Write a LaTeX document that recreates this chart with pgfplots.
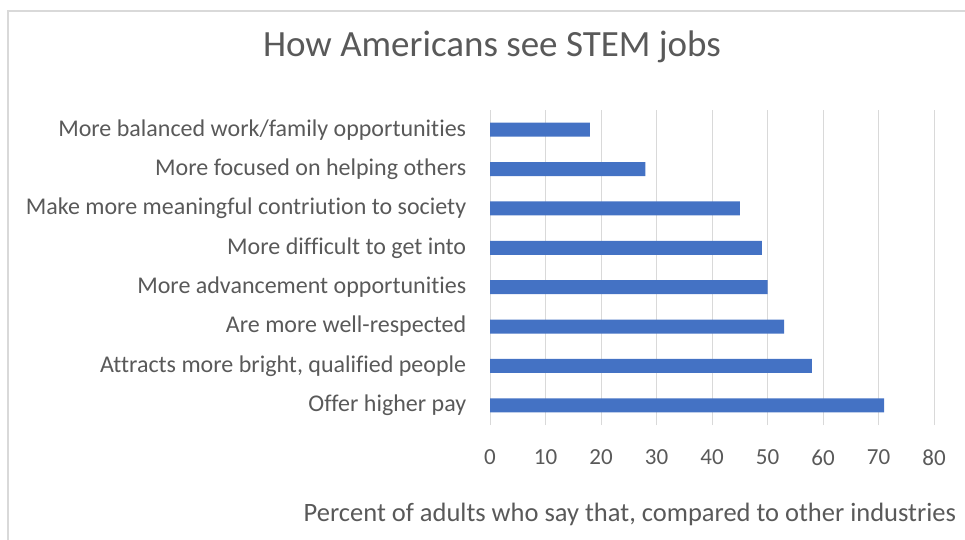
\documentclass[border=0pt]{standalone}
\usepackage{pgfplots}
\pgfplotsset{compat=1.18}
\usepackage{fontspec}
\setmainfont{Carlito}[Ligatures={NoCommon}]
\definecolor{barblue}{HTML}{4472C4}
\definecolor{txtgray}{HTML}{595959}
\definecolor{gridgray}{HTML}{D9D9D9}
\begin{document}
\begin{tikzpicture}[x=1pt,y=1pt]
\useasboundingbox (0,0) rectangle (965,539);
\clip (0,0) rectangle (965,539);
\draw[gridgray, line width=1.5pt] (8,-10) -- (8,528) -- (1000,528);
\begin{axis}[
  at={(490pt,114pt)}, anchor=south west,
  width=444pt, height=315pt, scale only axis,
  xbar, bar width=14pt,
  xmin=0, xmax=80, ymin=-0.5, ymax=7.5,
  xtick={0,10,...,80},
  ytick={0,...,7},
  yticklabels={Offer higher pay, {Attracts more bright, qualified people}, Are more well-respected, More advancement opportunities, More difficult to get into, Make more meaningful contriution to society, More focused on helping others, More balanced work/family opportunities},
  xmajorgrids, major grid style={gridgray, line width=1pt},
  axis line style={draw=none},
  tick style={draw=none},
  /pgf/number format/assume math mode=true,
  yticklabel style={font=\fontsize{24}{28}\selectfont, text=txtgray, xshift=-16pt},
  xticklabel style={font=\fontsize{23}{27}\selectfont, text=txtgray, yshift=-21pt},
  title={How Americans see STEM jobs},
  title style={font=\fontsize{37}{44}\selectfont, text=txtgray, at={(axis description cs:0.0045,1.18)}, anchor=center},
  xlabel={Percent of adults who say that, compared to other industries},
  xlabel style={font=\fontsize{26.5}{32}\selectfont, text=txtgray, at={(axis description cs:-0.4275,-0.283)}, anchor=west},
]
\addplot[fill=barblue, draw=none] coordinates {(71,0) (58,1) (53,2) (50,3) (49,4) (45,5) (28,6) (18,7)};
\end{axis}
\end{tikzpicture}
\end{document}
